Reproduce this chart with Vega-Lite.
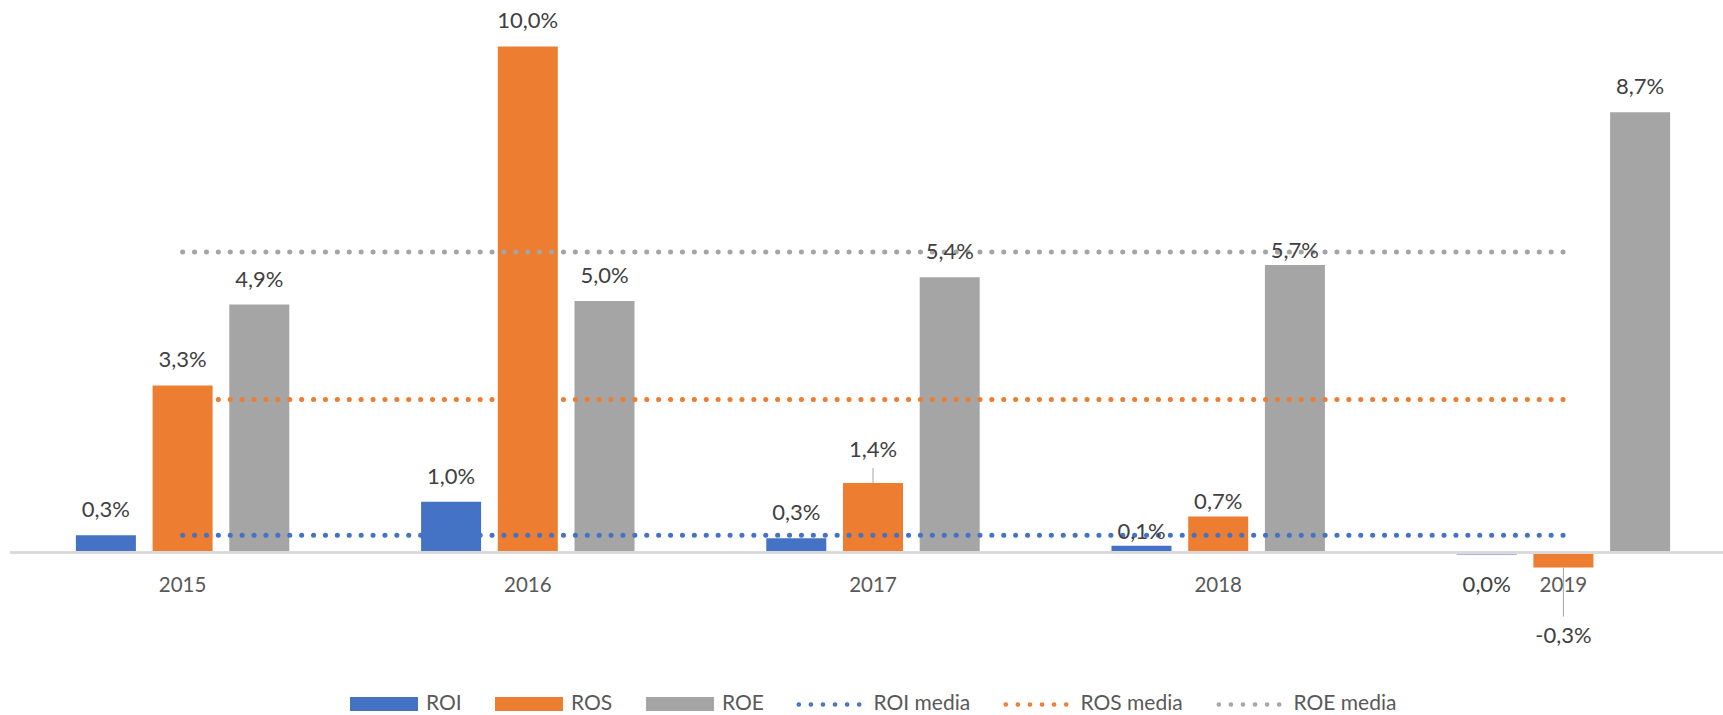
{
  "$schema": "https://vega.github.io/schema/vega-lite/v6.json",
  "width": 1713,
  "height": 597,
  "autosize": {"type": "none"},
  "padding": {"left": 10, "top": 6, "right": 0, "bottom": 112},
  "background": "white",
  "config": {
    "view": {"stroke": null},
    "locale": {"number": {"decimal": ",", "thousands": ".", "grouping": [3], "currency": ["", " €"], "minus": "-"}},
    "text": {"font": "Lato"},
    "legend": {"labelFont": "Lato"}
  },
  "datasets": {
    "indici": [
      {"anno": "2015", "serie": "ROI", "valore": 0.0034},
      {"anno": "2015", "serie": "ROS", "valore": 0.033},
      {"anno": "2015", "serie": "ROE", "valore": 0.049},
      {"anno": "2016", "serie": "ROI", "valore": 0.010},
      {"anno": "2016", "serie": "ROS", "valore": 0.100},
      {"anno": "2016", "serie": "ROE", "valore": 0.0497},
      {"anno": "2017", "serie": "ROI", "valore": 0.0028},
      {"anno": "2017", "serie": "ROS", "valore": 0.0137},
      {"anno": "2017", "serie": "ROE", "valore": 0.0544},
      {"anno": "2018", "serie": "ROI", "valore": 0.0013},
      {"anno": "2018", "serie": "ROS", "valore": 0.0071},
      {"anno": "2018", "serie": "ROE", "valore": 0.0568},
      {"anno": "2019", "serie": "ROI", "valore": -0.0004},
      {"anno": "2019", "serie": "ROS", "valore": -0.003},
      {"anno": "2019", "serie": "ROE", "valore": 0.087}
    ],
    "medie": [
      {"anno": "2015", "serie": "ROI media", "valore": 0.0034},
      {"anno": "2016", "serie": "ROI media", "valore": 0.0034},
      {"anno": "2017", "serie": "ROI media", "valore": 0.0034},
      {"anno": "2018", "serie": "ROI media", "valore": 0.0034},
      {"anno": "2019", "serie": "ROI media", "valore": 0.0034},
      {"anno": "2015", "serie": "ROS media", "valore": 0.0302},
      {"anno": "2016", "serie": "ROS media", "valore": 0.0302},
      {"anno": "2017", "serie": "ROS media", "valore": 0.0302},
      {"anno": "2018", "serie": "ROS media", "valore": 0.0302},
      {"anno": "2019", "serie": "ROS media", "valore": 0.0302},
      {"anno": "2015", "serie": "ROE media", "valore": 0.0594},
      {"anno": "2016", "serie": "ROE media", "valore": 0.0594},
      {"anno": "2017", "serie": "ROE media", "valore": 0.0594},
      {"anno": "2018", "serie": "ROE media", "valore": 0.0594},
      {"anno": "2019", "serie": "ROE media", "valore": 0.0594}
    ]
  },
  "layer": [
    {
      "data": {"name": "indici"},
      "mark": {"type": "bar"},
      "encoding": {
        "x": {"field": "anno", "type": "nominal", "axis": null,
              "scale": {"type": "band", "range": [0, 1726], "paddingInner": 0, "paddingOuter": 0}},
        "xOffset": {"field": "serie", "type": "nominal",
                    "scale": {"domain": ["ROI", "ROS", "ROE"], "paddingInner": 0.2177, "paddingOuter": 0.859}},
        "y": {"field": "valore", "type": "quantitative", "axis": null,
              "scale": {"domain": [-0.01, 0.108], "nice": false, "zero": false}},
        "fill": {"field": "serie", "type": "nominal",
                 "scale": {"domain": ["ROI", "ROS", "ROE"], "range": ["#4472C4", "#ED7D31", "#A5A5A5"]},
                 "legend": {"title": null, "orient": "none", "legendX": 340, "legendY": 664,
                            "direction": "horizontal", "symbolType": "M-1,-0.206H1V0.206H-1Z",
                            "symbolSize": 4624, "symbolStrokeWidth": 0, "labelFont": "Lato",
                            "labelFontSize": 21, "labelColor": "#595959", "labelOffset": 8,
                            "columnPadding": 33, "padding": 0, "symbolOffset": 0}}
      }
    },
    {
      "data": {"name": "indici"},
      "mark": {"type": "rule", "stroke": "#D9D9D9", "strokeWidth": 1.5},
      "encoding": {"y": {"datum": 0}}
    },
    {
      "data": {"name": "medie"},
      "mark": {"type": "line", "strokeDash": [0.1, 11.8], "strokeCap": "round", "strokeWidth": 5},
      "encoding": {
        "x": {"field": "anno", "type": "nominal"},
        "y": {"field": "valore", "type": "quantitative"},
        "stroke": {"field": "serie", "type": "nominal",
                   "scale": {"domain": ["ROI media", "ROS media", "ROE media"], "range": ["#4472C4", "#ED7D31", "#A5A5A5"]},
                   "legend": {"title": null, "orient": "none", "legendX": 783.5, "legendY": 662.7,
                              "direction": "horizontal",
                              "symbolType": "M-0.918,0A0.03,0.03 0 1,0 -0.858,0A0.03,0.03 0 1,0 -0.918,0ZM-0.563,0A0.03,0.03 0 1,0 -0.503,0A0.03,0.03 0 1,0 -0.563,0ZM-0.208,0A0.03,0.03 0 1,0 -0.148,0A0.03,0.03 0 1,0 -0.208,0ZM0.148,0A0.03,0.03 0 1,0 0.208,0A0.03,0.03 0 1,0 0.148,0ZM0.503,0A0.03,0.03 0 1,0 0.563,0A0.03,0.03 0 1,0 0.503,0ZM0.858,0A0.03,0.03 0 1,0 0.918,0A0.03,0.03 0 1,0 0.858,0Z",
                              "symbolSize": 4624, "symbolStrokeWidth": 2.6, "labelFont": "Lato",
                              "labelFontSize": 21, "labelColor": "#595959", "labelOffset": 9,
                              "columnPadding": 29, "padding": 0, "symbolOffset": 0}}
      }
    },
    {
      "data": {"name": "indici"},
      "transform": [{"filter": "datum.valore >= 0 && datum.anno != '2018' && !(datum.anno == '2017' && datum.serie == 'ROS')"}],
      "mark": {"type": "text", "dy": -18, "baseline": "alphabetic", "align": "center", "fontSize": 22, "color": "#404040"},
      "encoding": {
        "x": {"field": "anno", "type": "nominal"},
        "xOffset": {"field": "serie", "type": "nominal"},
        "y": {"field": "valore", "type": "quantitative"},
        "text": {"field": "valore", "type": "quantitative", "format": ".1%"}
      }
    },
    {
      "data": {"name": "indici"},
      "transform": [{"filter": "datum.anno == '2018'"}],
      "mark": {"type": "text", "dy": -7, "baseline": "alphabetic", "align": "center", "fontSize": 22, "color": "#404040"},
      "encoding": {
        "x": {"field": "anno", "type": "nominal"},
        "xOffset": {"field": "serie", "type": "nominal"},
        "y": {"field": "valore", "type": "quantitative"},
        "text": {"field": "valore", "type": "quantitative", "format": ".1%"}
      }
    },
    {
      "data": {"name": "indici"},
      "transform": [{"filter": "datum.anno == '2017' && datum.serie == 'ROS'"}],
      "mark": {"type": "text", "dy": -26, "baseline": "alphabetic", "align": "center", "fontSize": 22, "color": "#404040"},
      "encoding": {
        "x": {"field": "anno", "type": "nominal"},
        "xOffset": {"field": "serie", "type": "nominal"},
        "y": {"field": "valore", "type": "quantitative"},
        "text": {"field": "valore", "type": "quantitative", "format": ".1%"}
      }
    },
    {
      "data": {"name": "indici"},
      "transform": [{"filter": "datum.anno == '2017' && datum.serie == 'ROS'"}],
      "mark": {"type": "rule", "stroke": "#A6A6A6", "strokeWidth": 1, "y2Offset": -15},
      "encoding": {
        "x": {"field": "anno", "type": "nominal"},
        "xOffset": {"field": "serie", "type": "nominal"},
        "y": {"field": "valore", "type": "quantitative"},
        "y2": {"field": "valore"}
      }
    },
    {
      "data": {"name": "indici"},
      "transform": [{"filter": "datum.anno == '2019' && datum.serie == 'ROI'"}],
      "mark": {"type": "text", "dy": 37.5, "baseline": "alphabetic", "align": "center", "fontSize": 22, "color": "#404040"},
      "encoding": {
        "x": {"field": "anno", "type": "nominal"},
        "xOffset": {"field": "serie", "type": "nominal"},
        "y": {"field": "valore", "type": "quantitative"},
        "text": {"field": "valore", "type": "quantitative", "format": ".1%"}
      }
    },
    {
      "data": {"name": "indici"},
      "transform": [{"filter": "datum.serie == 'ROS'"}],
      "mark": {"type": "text", "dy": 39.3, "baseline": "alphabetic", "align": "center", "fontSize": 20.5, "color": "#595959"},
      "encoding": {
        "x": {"field": "anno", "type": "nominal"},
        "y": {"datum": 0},
        "text": {"field": "anno", "type": "nominal"}
      }
    },
    {
      "data": {"name": "indici"},
      "transform": [{"filter": "datum.anno == '2019' && datum.serie == 'ROS'"}],
      "mark": {"type": "rule", "stroke": "#A6A6A6", "strokeWidth": 1, "y2Offset": 49},
      "encoding": {
        "x": {"field": "anno", "type": "nominal"},
        "xOffset": {"field": "serie", "type": "nominal"},
        "y": {"field": "valore", "type": "quantitative"},
        "y2": {"field": "valore"}
      }
    },
    {
      "data": {"name": "indici"},
      "transform": [{"filter": "datum.anno == '2019' && datum.serie == 'ROS'"}],
      "mark": {"type": "text", "dy": 75.7, "baseline": "alphabetic", "align": "center", "fontSize": 22, "color": "#404040"},
      "encoding": {
        "x": {"field": "anno", "type": "nominal"},
        "xOffset": {"field": "serie", "type": "nominal"},
        "y": {"field": "valore", "type": "quantitative"},
        "text": {"field": "valore", "type": "quantitative", "format": ".1%"}
      }
    }
  ]
}
